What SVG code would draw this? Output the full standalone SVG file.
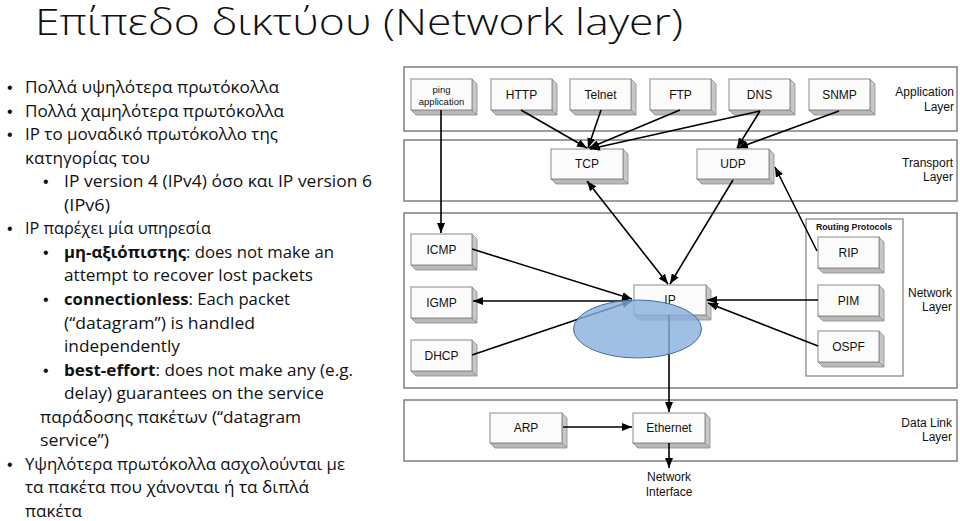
<svg xmlns="http://www.w3.org/2000/svg" xmlns:xlink="http://www.w3.org/1999/xlink" width="960" height="521" viewBox="0 0 960 521">
<style>
.title{font-family:"Open Sans","Noto Sans",sans-serif;font-weight:300;font-size:37px;fill:#111}
.bt{font-family:"Open Sans","Noto Sans",sans-serif;font-size:16.5px;fill:#111}
.bl{font-family:"Liberation Sans",Arial,sans-serif;font-size:16px;fill:#111}
.b{font-weight:bold}
.panel{fill:#fff;stroke:#7f7f7f;stroke-width:1.5}
.lbl{font-family:"Liberation Sans",Arial,sans-serif;font-size:12px;fill:#111}
.lr{text-anchor:end}
.rp{font-family:"Liberation Sans",Arial,sans-serif;font-size:8.8px;font-weight:bold;fill:#111;text-anchor:middle}
.bx{font-family:"Liberation Sans",Arial,sans-serif;font-size:12px;fill:#111;text-anchor:middle}
.sm{font-size:9.5px}
.front{fill:#fbfbfb;stroke:#8a8a8a;stroke-width:1}
.side{fill:#c8c8c8;stroke:#8a8a8a;stroke-width:0.8}
.bot{fill:#b9b9b9;stroke:#8a8a8a;stroke-width:0.8}
.cn{fill:none;stroke:#000;stroke-width:1.6}
</style>
<defs>
<marker id="ah" markerUnits="userSpaceOnUse" markerWidth="11" markerHeight="8" refX="10" refY="4" orient="auto-start-reverse">
<path d="M0,0 L10,4 L0,8 z" fill="#000"/>
</marker>
<g id="bA">
<polygon class="side" points="61,0 66,5 66,36 61,31"/>
<polygon class="bot" points="0,31 61,31 66,36 5,36"/>
<rect class="front" x="0" y="0" width="61" height="31"/>
</g>
<g id="bB">
<polygon class="side" points="72,0 77,5 77,35 72,30"/>
<polygon class="bot" points="0,30 72,30 77,35 5,35"/>
<rect class="front" x="0" y="0" width="72" height="30"/>
</g>
</defs>
<rect width="960" height="521" fill="#fff"/>

<text class="title" x="35" y="35" textLength="648" lengthAdjust="spacingAndGlyphs">Επίπεδο δικτύου (Network layer)</text>

<g id="bullets">
<text class="bl" x="7" y="93">•</text>
<text class="bt" x="25" y="93" textLength="254" lengthAdjust="spacingAndGlyphs">Πολλά υψηλότερα πρωτόκολλα</text>
<text class="bl" x="7" y="116.5">•</text>
<text class="bt" x="25" y="116.5" textLength="259" lengthAdjust="spacingAndGlyphs">Πολλά χαμηλότερα πρωτόκολλα</text>
<text class="bl" x="7" y="140">•</text>
<text class="bt" x="25" y="140" textLength="253" lengthAdjust="spacingAndGlyphs">IP το μοναδικό πρωτόκολλο της</text>
<text class="bt" x="25" y="163.6" textLength="125" lengthAdjust="spacingAndGlyphs">κατηγορίας του</text>
<text class="bl" x="43" y="187.2">•</text>
<text class="bt" x="64" y="187.2" textLength="308" lengthAdjust="spacingAndGlyphs">IP version 4 (IPv4) όσο και IP version 6</text>
<text class="bt" x="64" y="210.7" textLength="46" lengthAdjust="spacingAndGlyphs">(IPv6)</text>
<text class="bl" x="7" y="234.3">•</text>
<text class="bt" x="25" y="234.3" textLength="186" lengthAdjust="spacingAndGlyphs">IP παρέχει μία υπηρεσία</text>
<text class="bl" x="43" y="257.8">•</text>
<text class="bt" x="64" y="257.8" textLength="270" lengthAdjust="spacingAndGlyphs"><tspan class="b">μη-αξιόπιστης</tspan>: does not make an</text>
<text class="bt" x="64" y="281.4" textLength="249" lengthAdjust="spacingAndGlyphs">attempt to recover lost packets</text>
<text class="bl" x="43" y="305">•</text>
<text class="bt" x="64" y="305" textLength="226" lengthAdjust="spacingAndGlyphs"><tspan class="b">connectionless</tspan>: Each packet</text>
<text class="bt" x="64" y="328.5" textLength="191" lengthAdjust="spacingAndGlyphs">(“datagram”) is handled</text>
<text class="bt" x="64" y="352" textLength="116" lengthAdjust="spacingAndGlyphs">independently</text>
<text class="bl" x="43" y="375.6">•</text>
<text class="bt" x="64" y="375.6" textLength="289" lengthAdjust="spacingAndGlyphs"><tspan class="b">best-effort</tspan>: does not make any (e.g.</text>
<text class="bt" x="64" y="399.1" textLength="260" lengthAdjust="spacingAndGlyphs">delay) guarantees on the service</text>
<text class="bt" x="40" y="422.7" textLength="261" lengthAdjust="spacingAndGlyphs">παράδοσης πακέτων (“datagram</text>
<text class="bt" x="40" y="446.2" textLength="69" lengthAdjust="spacingAndGlyphs">service”)</text>
<text class="bl" x="7" y="469.8">•</text>
<text class="bt" x="25" y="469.8" textLength="320" lengthAdjust="spacingAndGlyphs">Υψηλότερα πρωτόκολλα ασχολούνται με</text>
<text class="bt" x="25" y="493.3" textLength="284" lengthAdjust="spacingAndGlyphs">τα πακέτα που χάνονται ή τα διπλά</text>
<text class="bt" x="25" y="516.9" textLength="57" lengthAdjust="spacingAndGlyphs">πακέτα</text>
</g>

<g id="layers">
<rect class="panel" x="404" y="67" width="553" height="64"/>
<text class="lbl lr" x="954" y="96">Application</text>
<text class="lbl lr" x="954" y="111">Layer</text>
<rect class="panel" x="404" y="140" width="553" height="61"/>
<text class="lbl lr" x="953" y="167">Transport</text>
<text class="lbl lr" x="953" y="181">Layer</text>
<rect class="panel" x="404" y="213" width="553" height="175"/>
<text class="lbl lr" x="952" y="297">Network</text>
<text class="lbl lr" x="952" y="311">Layer</text>
<rect class="panel" x="404" y="400" width="553" height="61"/>
<text class="lbl lr" x="952" y="427">Data Link</text>
<text class="lbl lr" x="952" y="441">Layer</text>
</g>

<g id="routing-protocols">
<rect x="806" y="219" width="97" height="157" fill="#fff" stroke="#7f7f7f" stroke-width="1.2"/>
<text class="rp" x="854" y="230">Routing Protocols</text>
</g>

<g id="ping"><use xlink:href="#bA" x="411" y="79"/><text class="bx sm" x="441.5" y="93">ping</text><text class="bx sm" x="441.5" y="105">application</text></g>
<g id="http"><use xlink:href="#bA" x="491" y="79"/><text class="bx" x="521.5" y="99">HTTP</text></g>
<g id="telnet"><use xlink:href="#bA" x="570" y="79"/><text class="bx" x="600.5" y="99">Telnet</text></g>
<g id="ftp"><use xlink:href="#bA" x="650" y="79"/><text class="bx" x="680.5" y="99">FTP</text></g>
<g id="dns"><use xlink:href="#bA" x="729" y="79"/><text class="bx" x="759.5" y="99">DNS</text></g>
<g id="snmp"><use xlink:href="#bA" x="809" y="79"/><text class="bx" x="839.5" y="99">SNMP</text></g>

<g id="tcp"><use xlink:href="#bB" x="551" y="149"/><text class="bx" x="587" y="168">TCP</text></g>
<g id="udp"><use xlink:href="#bB" x="697" y="149"/><text class="bx" x="733" y="168">UDP</text></g>

<g id="icmp"><use xlink:href="#bA" x="411" y="234"/><text class="bx" x="441.5" y="254">ICMP</text></g>
<g id="igmp"><use xlink:href="#bA" x="411" y="287"/><text class="bx" x="441.5" y="307">IGMP</text></g>
<g id="dhcp"><use xlink:href="#bA" x="411" y="340"/><text class="bx" x="441.5" y="360">DHCP</text></g>
<g id="ip"><use xlink:href="#bB" x="634" y="285"/><text class="bx" x="670" y="304">IP</text></g>
<g id="rip"><use xlink:href="#bA" x="818" y="237"/><text class="bx" x="848.5" y="257">RIP</text></g>
<g id="pim"><use xlink:href="#bA" x="818" y="285"/><text class="bx" x="848.5" y="305">PIM</text></g>
<g id="ospf"><use xlink:href="#bA" x="818" y="331"/><text class="bx" x="848.5" y="351">OSPF</text></g>

<g id="arp"><use xlink:href="#bB" x="490" y="413"/><text class="bx" x="526" y="432">ARP</text></g>
<g id="ethernet"><use xlink:href="#bB" x="633" y="413"/><text class="bx" x="669" y="432">Ethernet</text></g>
<g id="network-interface"><text class="bx" x="669" y="481">Network</text><text class="bx" x="669" y="496">Interface</text></g>

<g id="connectors">
<path class="cn" d="M441,110 V233" marker-end="url(#ah)"/>
<path class="cn" d="M521,110 L587,148" marker-end="url(#ah)"/>
<path class="cn" d="M601,110 L588,148" marker-end="url(#ah)"/>
<path class="cn" d="M680,110 L589,148" marker-end="url(#ah)"/>
<path class="cn" d="M760,111 L590,149" marker-end="url(#ah)"/>
<path class="cn" d="M760,111 L737,148" marker-end="url(#ah)"/>
<path class="cn" d="M839,111 L738,148" marker-end="url(#ah)"/>
<path class="cn" d="M587,181 L668,284" marker-start="url(#ah)" marker-end="url(#ah)"/>
<path class="cn" d="M733,180 L670,284" marker-end="url(#ah)"/>
<path class="cn" d="M817,251 L775,167" marker-end="url(#ah)"/>
<path class="cn" d="M472,249 L632,299" marker-end="url(#ah)"/>
<path class="cn" d="M473,301 L632,301" marker-start="url(#ah)" marker-end="url(#ah)"/>
<path class="cn" d="M472,355 L632,301" marker-end="url(#ah)"/>
<path class="cn" d="M818,300 L707,300" marker-end="url(#ah)"/>
<path class="cn" d="M818,346 L708,303" marker-end="url(#ah)"/>
<path class="cn" d="M669,315 V412" marker-end="url(#ah)"/>
<path class="cn" d="M563,427 H632" marker-end="url(#ah)"/>
<path class="cn" d="M669,443 V468" marker-end="url(#ah)"/>
</g>

<g id="highlight">
<ellipse cx="637.5" cy="329" rx="64" ry="29" fill="#87afdd" fill-opacity="0.8" stroke="#41719c" stroke-width="1"/>
</g>
</svg>
